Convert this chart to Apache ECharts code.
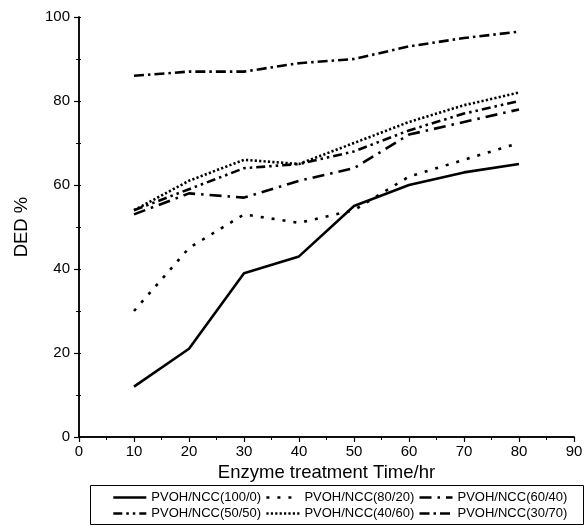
<!DOCTYPE html>
<html>
<head>
<meta charset="utf-8">
<script src="https://cdn.jsdelivr.net/npm/echarts@6/dist/echarts.min.js"></script>
<style>
  html, body { margin: 0; padding: 0; background: #fff; }
  #chart { width: 587px; height: 525px; }
</style>
</head>
<body>
<div id="chart"></div>
<script>
// Enzyme treatment time (hours)
const times = [10, 20, 30, 40, 50, 60, 70, 80];

// Degree of enzymatic degradation (DED %) for each blend ratio
const ded_100_0 = [12, 21, 39, 43, 55, 60, 63, 65];
const ded_80_20 = [30, 45, 53, 51, 54, 62, 66, 70];
const ded_60_40 = [53, 58, 57, 61, 64, 72, 75, 78];
const ded_50_50 = [54, 59, 64, 65, 68, 73, 77, 80];
const ded_40_60 = [54, 61, 66, 65, 70, 75, 79, 82];
const ded_30_70 = [86, 87, 87, 89, 90, 93, 95, 96.5];

const seriesNames = [
  'PVOH/NCC(100/0)', 'PVOH/NCC(80/20)', 'PVOH/NCC(60/40)',
  'PVOH/NCC(50/50)', 'PVOH/NCC(40/60)', 'PVOH/NCC(30/70)'
];
const seriesValues = [ded_100_0, ded_80_20, ded_60_40, ded_50_50, ded_40_60, ded_30_70];

// Dash pattern per curve
const dashes = [
  'solid',
  [3, 8],
  [12, 6, 2.5, 6],
  [9, 4, 2.5, 4, 2.5, 4],
  [2.2, 2.2],
  [10, 4, 2.5, 4]
];

const font = 'Arial, "Liberation Sans", sans-serif';

const chart = echarts.init(document.getElementById('chart'), null, { renderer: 'canvas' });

const series = seriesNames.map((name, i) => ({
  name: name,
  type: 'line',
  xAxisIndex: 0,
  yAxisIndex: 0,
  data: times.map((t, j) => [t, seriesValues[i][j]]),
  symbol: 'none',
  showSymbol: false,
  animation: false,
  lineStyle: { color: '#000', width: 2.6, type: dashes[i] },
  itemStyle: { color: '#000' }
}));

const legendCommon = {
  left: 112,
  orient: 'horizontal',
  itemWidth: 33,
  itemHeight: 12,
  itemGap: 4,
  padding: 0,
  itemStyle: { opacity: 0 },
  lineStyle: { width: 2.6 },
  textStyle: { fontFamily: font, fontSize: 13, color: '#000' },
  selectedMode: false
};

const plainAxis = {
  axisLine: { show: true, lineStyle: { color: '#000', width: 1.5 } },
  splitLine: { show: false }
};

chart.setOption({
  backgroundColor: '#fff',
  animation: false,
  grid: { left: 79, right: 13, top: 17, bottom: 88 },
  legend: [
    Object.assign({}, legendCommon, { id: 'row1', top: 491, data: seriesNames.slice(0, 3) }),
    Object.assign({}, legendCommon, { id: 'row2', top: 507, data: seriesNames.slice(3, 6) })
  ],
  graphic: [{
    type: 'rect',
    shape: { x: 90.5, y: 485.5, width: 493, height: 39 },
    style: { fill: 'none', stroke: '#000', lineWidth: 1 },
    silent: true
  }],
  xAxis: [
    Object.assign({}, plainAxis, {
      type: 'value', min: 0, max: 90, interval: 10,
      name: 'Enzyme treatment Time/hr',
      nameLocation: 'middle', nameGap: 26,
      nameTextStyle: { fontFamily: font, fontSize: 18.5, color: '#000' },
      axisTick: { show: true, inside: false, length: 5, lineStyle: { color: '#000', width: 1.2 } },
      minorTick: { show: true, splitNumber: 2, length: 3, lineStyle: { color: '#000', width: 1 } },
      axisLabel: { fontFamily: font, fontSize: 15, color: '#000', margin: 7 }
    }),
    Object.assign({}, plainAxis, {
      type: 'value', min: 0, max: 90, interval: 10, position: 'top',
      axisTick: { show: true, inside: true, length: 2, lineStyle: { color: '#000', width: 1 } },
      axisLabel: { show: false }
    })
  ],
  yAxis: [
    Object.assign({}, plainAxis, {
      type: 'value', min: 0, max: 100, interval: 20,
      name: 'DED %',
      nameLocation: 'middle', nameGap: 48,
      nameTextStyle: { fontFamily: font, fontSize: 18.5, color: '#000' },
      axisTick: { show: true, inside: false, length: 5, lineStyle: { color: '#000', width: 1.2 } },
      minorTick: { show: true, splitNumber: 2, length: 3, lineStyle: { color: '#000', width: 1 } },
      axisLabel: { fontFamily: font, fontSize: 15, color: '#000', margin: 9 }
    }),
    Object.assign({}, plainAxis, {
      type: 'value', min: 0, max: 100, interval: 10, position: 'right',
      axisTick: { show: true, inside: false, length: 2, lineStyle: { color: '#000', width: 1 } },
      axisLabel: { show: false }
    })
  ],
  series: series
});
</script>
</body>
</html>
